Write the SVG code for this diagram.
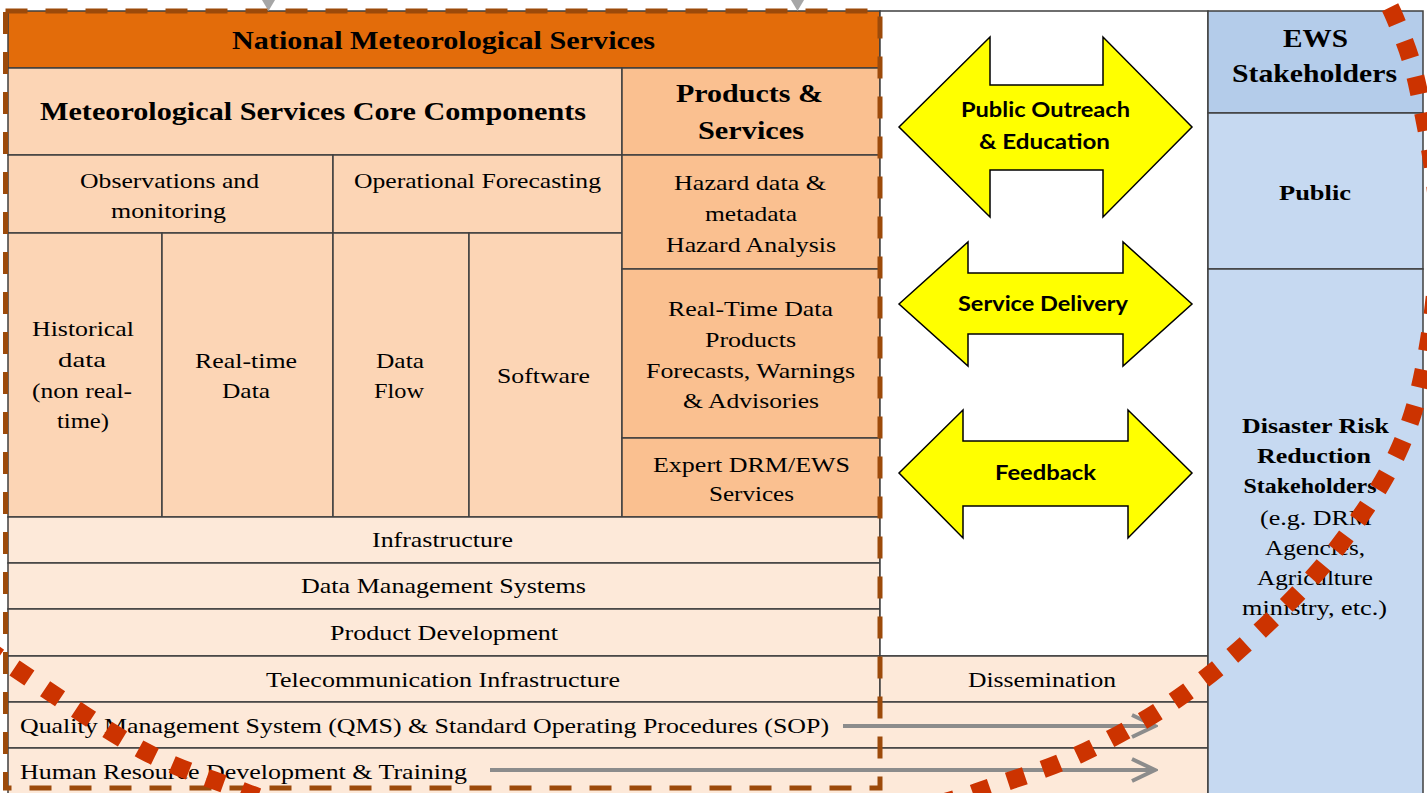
<svg xmlns="http://www.w3.org/2000/svg" width="1427" height="793" viewBox="0 0 1427 793">
<style>
.cell{stroke:#3f3f3f;stroke-width:1.5}
.nms{fill:#E36C0A}
.core{fill:#FCD5B5}
.prod{fill:#FAC090}
.base{fill:#FDE9D9}
.ews{fill:#B4CCEA}
.stk{fill:#C6D9F1}
.white{fill:#ffffff}
text{font-family:"Liberation Serif","Times New Roman",serif;fill:#000;text-anchor:middle}
.r{font-size:22px}
.b{font-size:26px;font-weight:bold}
.bs{font-size:22px;font-weight:bold}
.a{font-family:Lato,"Liberation Sans",Arial,sans-serif;font-size:20px;font-weight:bold}
.st{text-anchor:start}
.arrow{fill:#FFFF00;stroke:#000;stroke-width:1.5;stroke-linejoin:miter}
.gline{stroke:#8C8C8C;stroke-width:4;fill:none}
</style>
<defs>
<marker id="chev" viewBox="0 0 28 28" refX="25" refY="14" markerWidth="28" markerHeight="28" markerUnits="userSpaceOnUse" orient="auto">
<path d="M2,3 L25,14 L2,25" fill="none" stroke="#8C8C8C" stroke-width="4"/>
</marker>
</defs>
<rect x="0" y="0" width="1427" height="793" fill="#ffffff"/>

<g id="nms-header">
<rect class="cell nms" x="8" y="11" width="872" height="57"/>
<text class="b" x="443.5" y="49" textLength="423" lengthAdjust="spacingAndGlyphs">National Meteorological Services</text>
</g>
<g id="core-components">
<rect class="cell core" x="8" y="68" width="614" height="87"/>
<text class="b" x="313" y="120" textLength="546" lengthAdjust="spacingAndGlyphs">Meteorological Services Core Components</text>
</g>
<g id="products-services">
<rect class="cell prod" x="622" y="68" width="258" height="87"/>
<text class="b" x="749.5" y="102" textLength="147" lengthAdjust="spacingAndGlyphs">Products &amp;</text>
<text class="b" x="751" y="139" textLength="106" lengthAdjust="spacingAndGlyphs">Services</text>
</g>
<g id="observations">
<rect class="cell core" x="8" y="155" width="325" height="78"/>
<text class="r" x="169.5" y="188" textLength="179" lengthAdjust="spacingAndGlyphs">Observations and</text>
<text class="r" x="168.5" y="218" textLength="115" lengthAdjust="spacingAndGlyphs">monitoring</text>
</g>
<g id="operational-forecasting">
<rect class="cell core" x="333" y="155" width="289" height="78"/>
<text class="r" x="477.5" y="188" textLength="247" lengthAdjust="spacingAndGlyphs">Operational Forecasting</text>
</g>
<g id="historical-data">
<rect class="cell core" x="8" y="233" width="154" height="284"/>
<text class="r" x="83" y="336" textLength="102" lengthAdjust="spacingAndGlyphs">Historical</text>
<text class="r" x="82" y="367" textLength="48" lengthAdjust="spacingAndGlyphs">data</text>
<text class="r" x="82" y="398" textLength="100" lengthAdjust="spacingAndGlyphs">(non real-</text>
<text class="r" x="83" y="428" textLength="52" lengthAdjust="spacingAndGlyphs">time)</text>
</g>
<g id="realtime-data">
<rect class="cell core" x="162" y="233" width="171" height="284"/>
<text class="r" x="246" y="368" textLength="102" lengthAdjust="spacingAndGlyphs">Real-time</text>
<text class="r" x="246" y="398" textLength="48" lengthAdjust="spacingAndGlyphs">Data</text>
</g>
<g id="data-flow">
<rect class="cell core" x="333" y="233" width="136" height="284"/>
<text class="r" x="400" y="368" textLength="48" lengthAdjust="spacingAndGlyphs">Data</text>
<text class="r" x="399" y="398" textLength="50" lengthAdjust="spacingAndGlyphs">Flow</text>
</g>
<g id="software">
<rect class="cell core" x="469" y="233" width="153" height="284"/>
<text class="r" x="543.5" y="383" textLength="93" lengthAdjust="spacingAndGlyphs">Software</text>
</g>
<g id="hazard-data">
<rect class="cell prod" x="622" y="155" width="258" height="114"/>
<text class="r" x="750" y="190" textLength="152" lengthAdjust="spacingAndGlyphs">Hazard data &amp;</text>
<text class="r" x="751" y="221" textLength="92" lengthAdjust="spacingAndGlyphs">metadata</text>
<text class="r" x="751" y="252" textLength="170" lengthAdjust="spacingAndGlyphs">Hazard Analysis</text>
</g>
<g id="realtime-products">
<rect class="cell prod" x="622" y="269" width="258" height="169"/>
<text class="r" x="750.5" y="316" textLength="165" lengthAdjust="spacingAndGlyphs">Real-Time Data</text>
<text class="r" x="750.5" y="347" textLength="91" lengthAdjust="spacingAndGlyphs">Products</text>
<text class="r" x="750.5" y="378" textLength="209" lengthAdjust="spacingAndGlyphs">Forecasts, Warnings</text>
<text class="r" x="751" y="408" textLength="136" lengthAdjust="spacingAndGlyphs">&amp; Advisories</text>
</g>
<g id="expert-services">
<rect class="cell prod" x="622" y="438" width="258" height="79"/>
<text class="r" x="751.5" y="472" textLength="197" lengthAdjust="spacingAndGlyphs">Expert DRM/EWS</text>
<text class="r" x="751.5" y="501" textLength="85" lengthAdjust="spacingAndGlyphs">Services</text>
</g>
<g id="infrastructure">
<rect class="cell base" x="8" y="517" width="872" height="46"/>
<text class="r" x="442.5" y="547" textLength="141" lengthAdjust="spacingAndGlyphs">Infrastructure</text>
</g>
<g id="data-management">
<rect class="cell base" x="8" y="563" width="872" height="46"/>
<text class="r" x="443.5" y="593" textLength="285" lengthAdjust="spacingAndGlyphs">Data Management Systems</text>
</g>
<g id="product-development">
<rect class="cell base" x="8" y="609" width="872" height="47"/>
<text class="r" x="444" y="640" textLength="228" lengthAdjust="spacingAndGlyphs">Product Development</text>
</g>
<g id="telecom">
<rect class="cell base" x="8" y="656" width="872" height="46"/>
<text class="r" x="443" y="687" textLength="354" lengthAdjust="spacingAndGlyphs">Telecommunication Infrastructure</text>
</g>
<g id="middle-column">
<rect class="cell white" x="880" y="11" width="328" height="645"/>
</g>
<g id="dissemination">
<rect class="cell base" x="880" y="656" width="328" height="46"/>
<text class="r" x="1042" y="687" textLength="148" lengthAdjust="spacingAndGlyphs">Dissemination</text>
</g>
<g id="qms">
<rect class="cell base" x="8" y="702" width="1200" height="46"/>
<text class="r st" x="20" y="733" textLength="809" lengthAdjust="spacingAndGlyphs">Quality Management System (QMS) &amp; Standard Operating Procedures (SOP)</text>
</g>
<g id="hr">
<rect class="cell base" x="8" y="748" width="1200" height="52"/>
<text class="r st" x="20" y="779" textLength="447" lengthAdjust="spacingAndGlyphs">Human Resource Development &amp; Training</text>
</g>
<g id="ews-stakeholders">
<rect class="cell ews" x="1208" y="11" width="215" height="102"/>
<text class="b" x="1315.5" y="47" textLength="65" lengthAdjust="spacingAndGlyphs">EWS</text>
<text class="b" x="1314.5" y="82" textLength="165" lengthAdjust="spacingAndGlyphs">Stakeholders</text>
</g>
<g id="public">
<rect class="cell stk" x="1208" y="113" width="215" height="156"/>
<text class="bs" x="1315" y="200" textLength="72" lengthAdjust="spacingAndGlyphs">Public</text>
</g>
<g id="drr-stakeholders">
<rect class="cell stk" x="1208" y="269" width="215" height="530"/>
<text class="bs" x="1315.5" y="433" textLength="147" lengthAdjust="spacingAndGlyphs">Disaster Risk</text>
<text class="bs" x="1314" y="463" textLength="114" lengthAdjust="spacingAndGlyphs">Reduction</text>
<text class="bs" x="1310" y="493" textLength="133" lengthAdjust="spacingAndGlyphs">Stakeholders</text>
<text class="r" x="1316" y="525" textLength="112" lengthAdjust="spacingAndGlyphs">(e.g. DRM</text>
<text class="r" x="1315" y="555" textLength="100" lengthAdjust="spacingAndGlyphs">Agencies,</text>
<text class="r" x="1315" y="585" textLength="116" lengthAdjust="spacingAndGlyphs">Agriculture</text>
<text class="r" x="1314.5" y="615" textLength="145" lengthAdjust="spacingAndGlyphs">ministry, etc.)</text>
</g>

<g id="arrow-public-outreach">
<polygon class="arrow" points="899,127 990,37 990,85 1103,85 1103,37 1192,127 1103,217 1103,170 990,170 990,217"/>
<text class="a" x="1045.5" y="117" textLength="169" lengthAdjust="spacingAndGlyphs">Public Outreach</text>
<text class="a" x="1044.5" y="149" textLength="131" lengthAdjust="spacingAndGlyphs">&amp; Education</text>
</g>
<g id="arrow-service-delivery">
<polygon class="arrow" points="899,304 968,242 968,273 1123,273 1123,242 1192,304 1123,366 1123,334 968,334 968,366"/>
<text class="a" x="1043" y="311" textLength="170" lengthAdjust="spacingAndGlyphs">Service Delivery</text>
</g>
<g id="arrow-feedback">
<polygon class="arrow" points="899,473 963,410 963,441 1128,441 1128,410 1192,473 1128,538 1128,506 963,506 963,538"/>
<text class="a" x="1045.5" y="480" textLength="101" lengthAdjust="spacingAndGlyphs">Feedback</text>
</g>

<g id="connectors">
<polygon points="262,0 275,0 268.5,11" fill="#A6A6A6"/>
<polygon points="791,0 804,0 797.5,11" fill="#A6A6A6"/>
<line class="gline" x1="843" y1="726" x2="1155" y2="726" marker-end="url(#chev)"/>
<line class="gline" x1="490" y1="770" x2="1155" y2="770" marker-end="url(#chev)"/>
</g>

<g id="nms-boundary">
<rect x="5.5" y="11" width="874.5" height="777" fill="none" stroke="#9C4A0A" stroke-width="5" stroke-dasharray="22 18"/>
</g>

<g id="red-dotted-curve">
<path d="M1372,-25 C1375.8,-17.8 1387.3,-0.8 1395,18 C1402.7,36.8 1410.8,54.3 1418,88 C1425.2,121.7 1436.5,176 1438,220 C1439.5,264 1433.7,313.3 1427,352 C1420.3,390.7 1412.8,419.5 1398,452 C1383.2,484.5 1360.5,517.7 1338,547 C1315.5,576.3 1289.8,602.7 1263,628 C1236.2,653.3 1207.8,677.8 1177,699 C1146.2,720.2 1111.3,739.5 1078,755 C1044.7,770.5 1010.7,779.7 977,792 C825.5,847.5 399.5,855 245,792 C210.7,778 180.2,770.5 142,750 C103.8,729.5 44.7,688.2 16,669 C-12.7,649.8 -22.3,640.7 -30,635" fill="none" stroke="#CC3300" stroke-width="18" stroke-dasharray="18 19"/>
</g>
</svg>
